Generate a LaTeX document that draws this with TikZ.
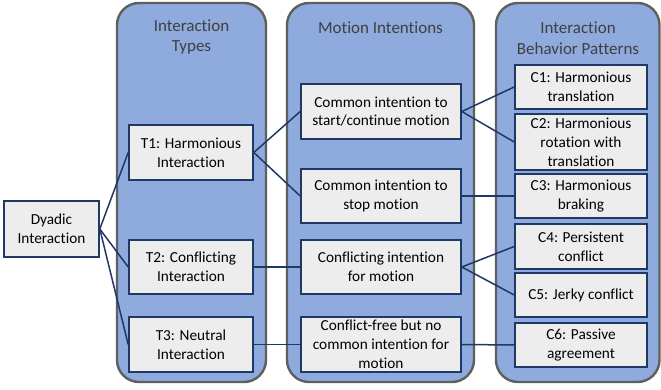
\documentclass[tikz,border=0pt]{standalone}
\usepackage{fontspec}
\setmainfont{Carlito}[Ligatures={NoCommon,NoRare,NoContextual}]
\begin{document}
\begin{tikzpicture}[x=1pt,y=-1pt,
  lane/.style={draw=laneborder,line width=2.4pt,fill=lanefill,rounded corners=22pt},
  box/.style={draw=boxborder,line width=1.6pt,fill=boxfill,inner sep=0pt,align=center,
    font=\fontsize{15.3}{18.8}\selectfont},
  ttl/.style={align=center,text=titlecol,font=\fontsize{17}{20.5}\selectfont},
  link/.style={draw=boxborder,line width=1.5pt}]
\definecolor{lanefill}{HTML}{8FAADC}
\definecolor{laneborder}{HTML}{5F5F5F}
\definecolor{boxfill}{HTML}{EDEDED}
\definecolor{boxborder}{HTML}{203864}
\definecolor{titlecol}{HTML}{404040}
\useasboundingbox (0,0) rectangle (661,390);
% lanes
\path[lane] (117,3) rectangle (266,382);
\path[lane] (287,3) rectangle (474,382);
\path[lane] (496,3) rectangle (659.5,382);
% titles
\node[ttl] (t1) at (191.5,37) {Interaction\\Types};
\node[ttl] (t2) at (380.5,28) {Motion Intentions};
\node[ttl] (t3) at (578,38) {Interaction\\Behavior Patterns};
% boxes
\node[box,minimum width=95pt,minimum height=56pt] (D) at (51.5,229) {Dyadic\\Interaction};
\node[box,minimum width=124pt,minimum height=55pt] (T1) at (191,152.5) {T1: Harmonious\\Interaction};
\node[box,minimum width=124pt,minimum height=54pt] (T2) at (191,267) {T2: Conflicting\\Interaction};
\node[box,minimum width=124pt,minimum height=55pt] (T3) at (191,344.5) {T3: Neutral\\Interaction};
\node[box,minimum width=160pt,minimum height=55pt] (M1) at (381,111.5) {Common intention to\\start/continue motion};
\node[box,minimum width=160pt,minimum height=54pt] (M2) at (381,196) {Common intention to\\stop motion};
\node[box,minimum width=160pt,minimum height=54pt] (M3) at (381,267) {Conflicting intention\\for motion};
\node[box,minimum width=160pt,minimum height=55pt] (M4) at (381,344.5) {Conflict-free but no\\common intention for\\motion};
\node[box,minimum width=132pt,minimum height=44pt] (C1) at (581,87) {C1: Harmonious\\translation};
\node[box,minimum width=132pt,minimum height=56pt] (C2) at (581,142) {C2: Harmonious\\rotation with\\translation};
\node[box,minimum width=132pt,minimum height=44pt] (C3) at (581,196) {C3: Harmonious\\braking};
\node[box,minimum width=132pt,minimum height=45pt] (C4) at (581,246.5) {C4: Persistent\\conflict};
\node[box,minimum width=132pt,minimum height=44pt] (C5) at (581,295) {C5: Jerky conflict};
\node[box,minimum width=132pt,minimum height=44pt] (C6) at (581,345) {C6: Passive\\agreement};
% links
\draw[link] (D.east) -- (T1.west);
\draw[link] (D.east) -- (T2.west);
\draw[link] (D.east) -- (T3.west);
\draw[link] (T1.east) -- (M1.west);
\draw[link] (T1.east) -- (M2.west);
\draw[link] (T2.east) -- (M3.west);
\draw[link] (T3.east) -- (M4.west);
\draw[link] (M1.east) -- (C1.west);
\draw[link] (M1.east) -- (C2.west);
\draw[link] (M2.east) -- (C3.west);
\draw[link] (M3.east) -- (C4.west);
\draw[link] (M3.east) -- (C5.west);
\draw[link] (M4.east) -- (C6.west);
\end{tikzpicture}
\end{document}
